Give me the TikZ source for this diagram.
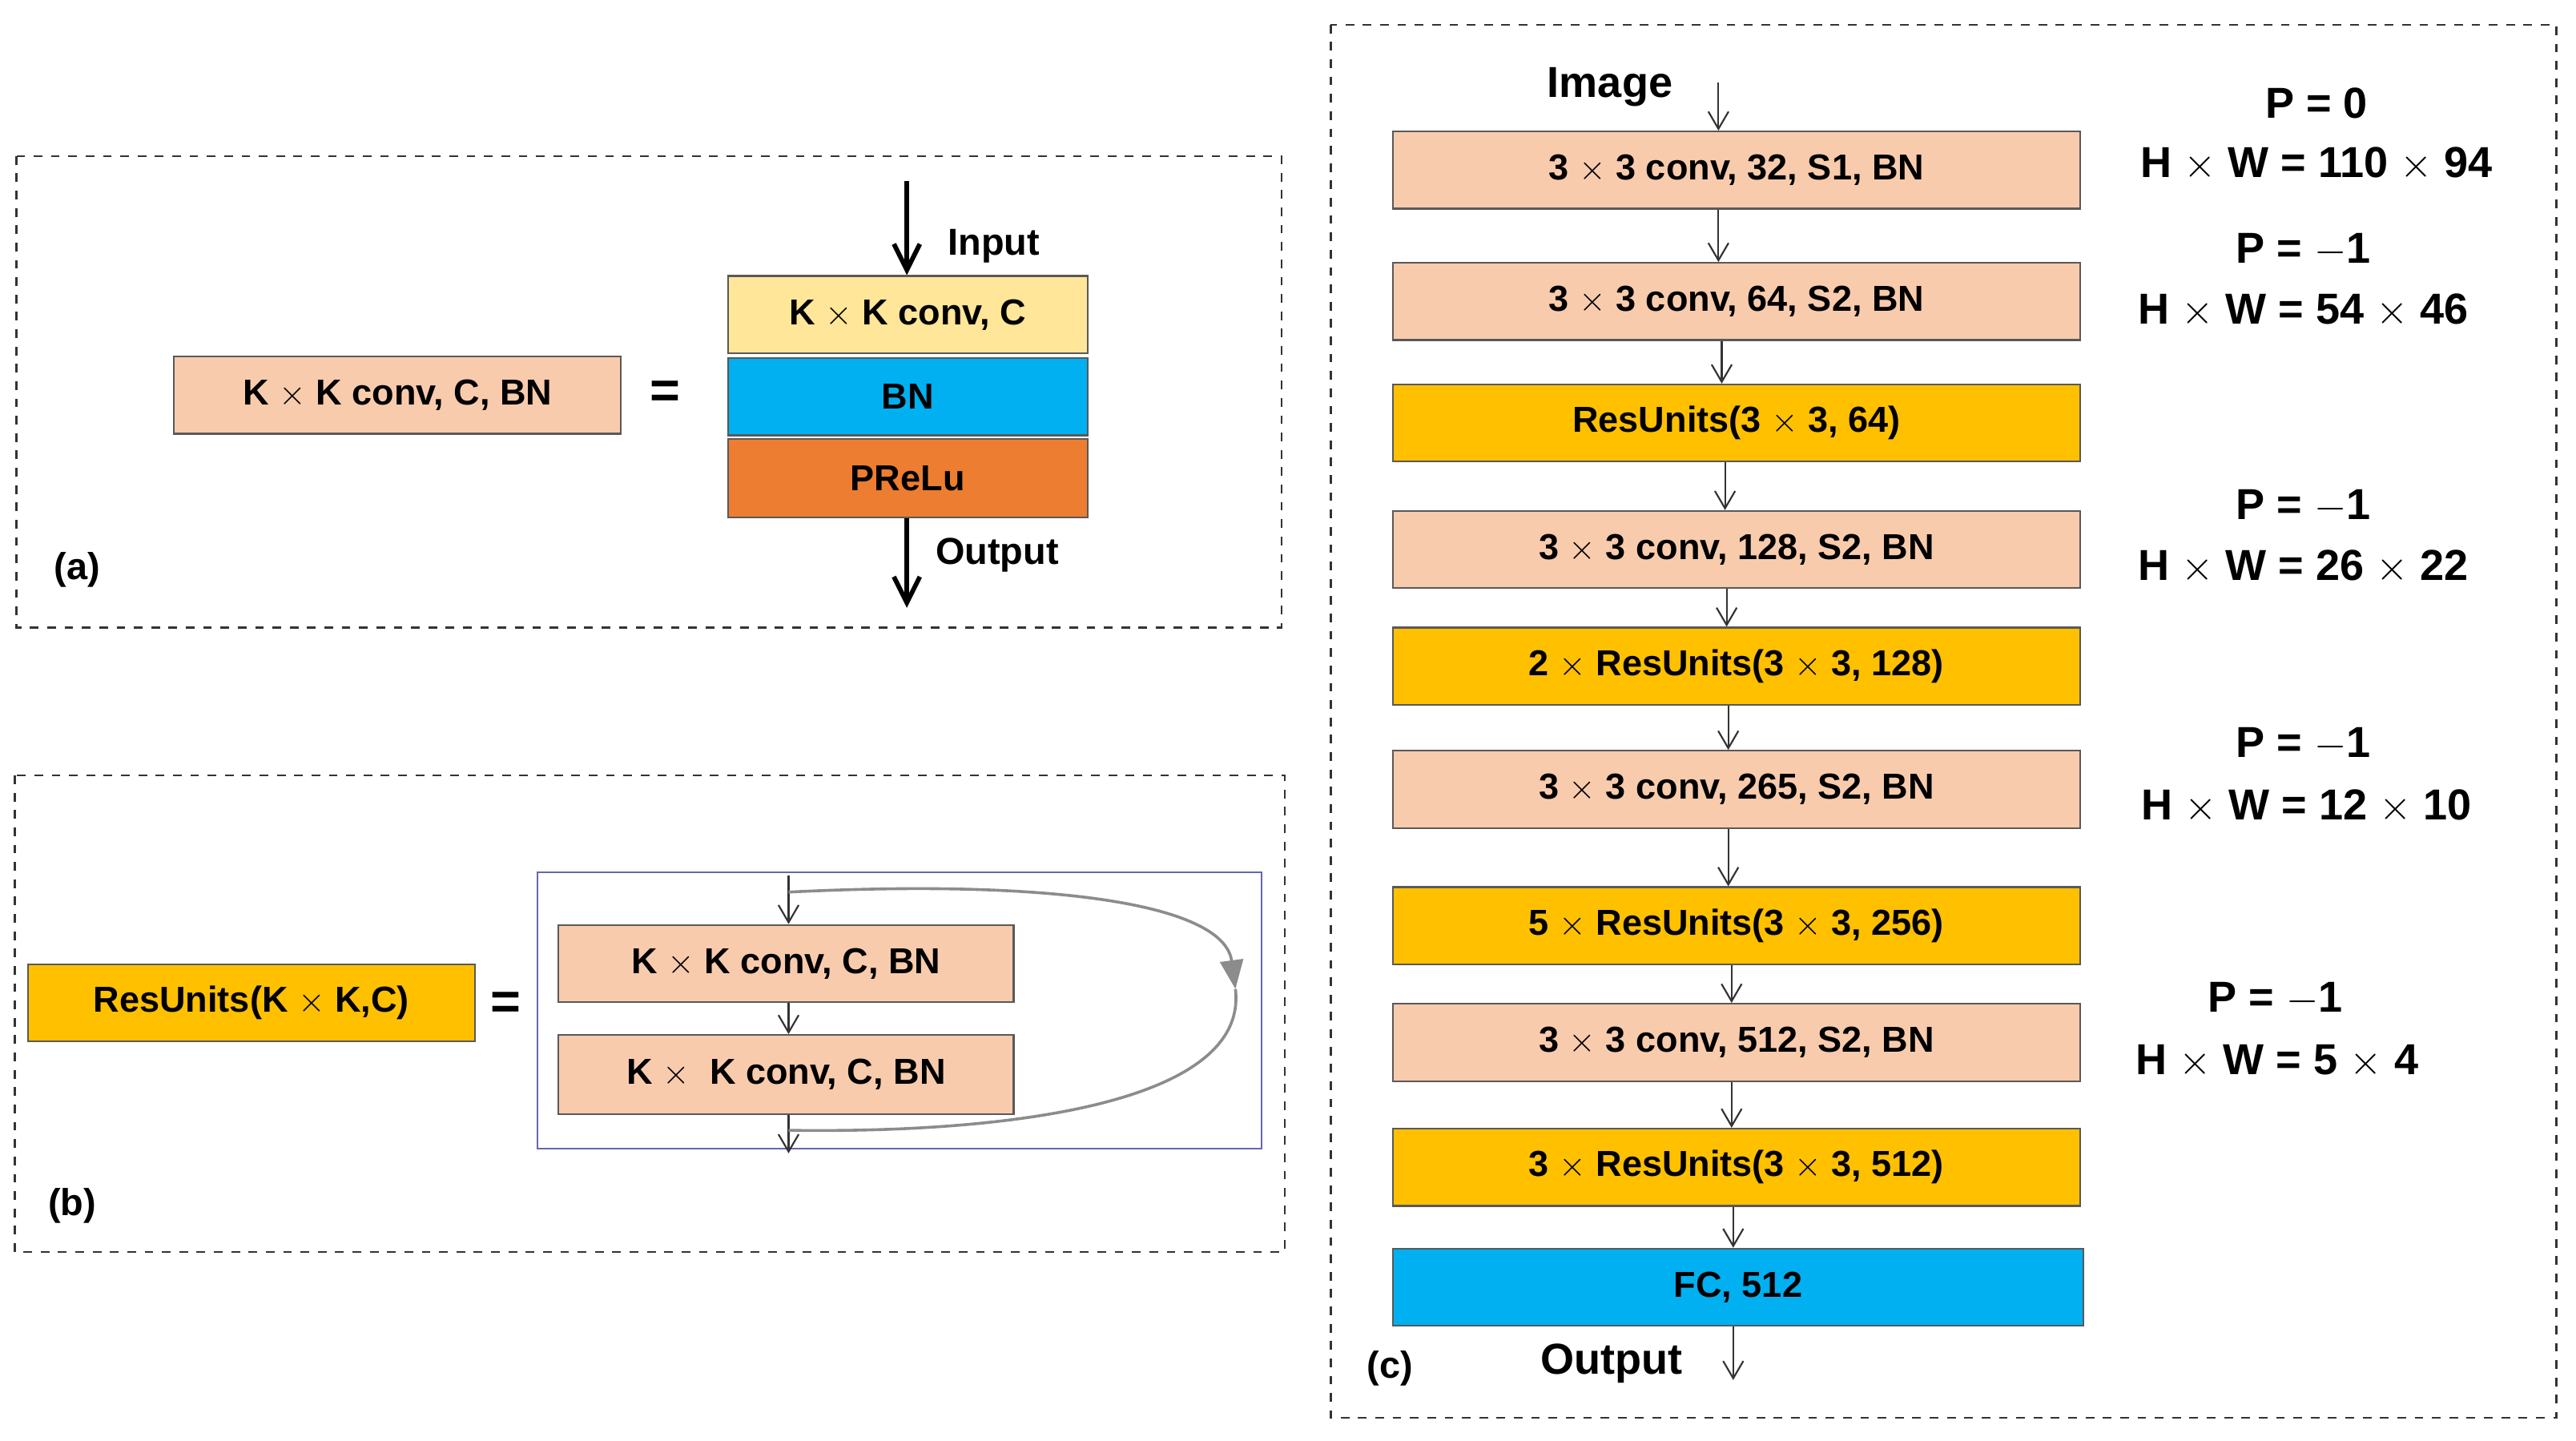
\documentclass[tikz,border=0pt]{standalone}
\usepackage{fontspec}
\setmainfont{Liberation Sans}
\usetikzlibrary{fit,arrows.meta}
\definecolor{peach}{HTML}{F8CBAD}
\definecolor{lyel}{HTML}{FFE699}
\definecolor{gold}{HTML}{FFC000}
\definecolor{sky}{HTML}{00B0F0}
\definecolor{orng}{HTML}{ED7D31}
\begin{document}
\begin{tikzpicture}[x=0.2mm,y=-0.2mm,
  box/.style={draw=black!65,line width=0.6pt,inner sep=0pt,font=\fontsize{12.5}{14}\selectfont\bfseries},
  lbl/.style={font=\fontsize{13}{15}\selectfont\bfseries,inner sep=0pt},
  big/.style={font=\fontsize{15}{17}\selectfont\bfseries,inner sep=0pt},
  dbox/.style={draw=black!80,dashed,line width=0.7pt},
  thin/.style={-{Straight Barb[length=6pt,width=7pt]},line width=0.6pt,black!80},
  thick/.style={-{Straight Barb[length=9pt,width=9pt]},line width=1.6pt}]
\useasboundingbox (0,0) rectangle (1568,877);
\newcommand{\bx}[7]{\node[box,fill=#6,fit={(#2,#3)(#4,#5)},label={[box,draw=none]center:#7}] (#1) {};}
% panel a
\draw[dbox] (10,95) rectangle (780,382);
\bx{ka}{106}{217}{378}{264}{peach}{K $\times$ K conv, C, BN}
\node[lbl,font=\fontsize{18}{18}\selectfont\bfseries] (eqa) at (405,240) {=};
\bx{kc}{443}{168}{662}{215}{lyel}{K $\times$ K conv, C}
\bx{bn}{443}{218}{662}{265}{sky}{BN}
\bx{pr}{443}{267}{662}{315}{orng}{PReLu}
\coordinate (inA) at (552,110);
\coordinate (outA) at (552,370);
\draw[thick] (inA) -- (kc.north -| inA);
\draw[thick] (pr.south -| outA) -- (outA);
\node[lbl] (inl) at (605,150) {Input};
\node[lbl] (outl) at (607,338) {Output};
\node[lbl] (la) at (47,347) {(a)};
% panel b
\draw[dbox] (9,472) rectangle (782,762);
\bx{ru}{17}{587}{289}{634}{gold}{ResUnits(K $\times$ K,C)}
\node[lbl,font=\fontsize{18}{18}\selectfont\bfseries] (eqb) at (308,612) {=};
\node[draw=black!50!blue!60,line width=0.6pt,fit={(327,531)(768,699)},inner sep=0pt] (frame) {};
\bx{b1}{340}{563}{617}{610}{peach}{K $\times$ K conv, C, BN}
\bx{b2}{340}{630}{617}{678}{peach}{K $\times$\ \ K conv, C, BN}
\coordinate (bt) at (480,533);
\coordinate (bb) at (480,702);
\coordinate (ct) at (480,543);
\coordinate (cm) at (752,602);
\coordinate (cb) at (480,688);
\draw[thin] (bt) -- (b1.north -| bt);
\draw[thin] (b1.south -| bt) -- (b2.north -| bt);
\draw[thin] (b2.south -| bt) -- (bb);
\draw[black!45,line width=1pt,-{Triangle[length=10pt,width=8pt]}] (ct) .. controls (640,535) and (745,550) .. (cm);
\draw[black!45,line width=1pt] (cm) .. controls (760,670) and (620,690) .. (cb);
\node[lbl] (lb) at (44,734) {(b)};
% panel c
\draw[dbox] (810,15) rectangle (1556,863);
\bx{c1}{848}{80}{1266}{127}{peach}{3 $\times$ 3 conv, 32, S1, BN}
\bx{c2}{848}{160}{1266}{207}{peach}{3 $\times$ 3 conv, 64, S2, BN}
\bx{c3}{848}{234}{1266}{281}{gold}{ResUnits(3 $\times$ 3, 64)}
\bx{c4}{848}{311}{1266}{358}{peach}{3 $\times$ 3 conv, 128, S2, BN}
\bx{c5}{848}{382}{1266}{429}{gold}{2 $\times$ ResUnits(3 $\times$ 3, 128)}
\bx{c6}{848}{457}{1266}{504}{peach}{3 $\times$ 3 conv, 265, S2, BN}
\bx{c7}{848}{540}{1266}{587}{gold}{5 $\times$ ResUnits(3 $\times$ 3, 256)}
\bx{c8}{848}{611}{1266}{658}{peach}{3 $\times$ 3 conv, 512, S2, BN}
\bx{c9}{848}{687}{1266}{734}{gold}{3 $\times$ ResUnits(3 $\times$ 3, 512)}
\bx{c10}{848}{760}{1268}{807}{sky}{FC, 512}
\coordinate (im) at (1046,50);
\coordinate (out) at (1055,840);
\draw[thin] (im) -- (c1.north -| im);
\draw[thin] (c1.south -| 1046,0) -- (c2.north -| 1046,0);
\draw[thin] (c2.south -| 1048,0) -- (c3.north -| 1048,0);
\draw[thin] (c3.south -| 1050,0) -- (c4.north -| 1050,0);
\draw[thin] (c4.south -| 1051,0) -- (c5.north -| 1051,0);
\draw[thin] (c5.south -| 1052,0) -- (c6.north -| 1052,0);
\draw[thin] (c6.south -| 1052,0) -- (c7.north -| 1052,0);
\draw[thin] (c7.south -| 1054,0) -- (c8.north -| 1054,0);
\draw[thin] (c8.south -| 1054,0) -- (c9.north -| 1054,0);
\draw[thin] (c9.south -| 1055,0) -- (c10.north -| 1055,0);
\draw[thin] (c10.south -| out) -- (out);
\node[big] (iml) at (980,53) {Image};
\node[big] (outl2) at (981,830) {Output};
\node[lbl] (lc) at (846,833) {(c)};
\node[big] (p1) at (1410,63) {P = 0};
\node[big] (h1) at (1410,100) {H $\times$ W = 110 $\times$ 94};
\node[big] (p2) at (1402,152) {P = $-$1};
\node[big] (h2) at (1402,189) {H $\times$ W = 54 $\times$ 46};
\node[big] (p3) at (1402,308) {P = $-$1};
\node[big] (h3) at (1402,345) {H $\times$ W = 26 $\times$ 22};
\node[big] (p4) at (1402,453) {P = $-$1};
\node[big] (h4) at (1404,491) {H $\times$ W = 12 $\times$ 10};
\node[big] (p5) at (1385,608) {P = $-$1};
\node[big] (h5) at (1386,646) {H $\times$ W = 5 $\times$ 4};
\end{tikzpicture}
\end{document}
